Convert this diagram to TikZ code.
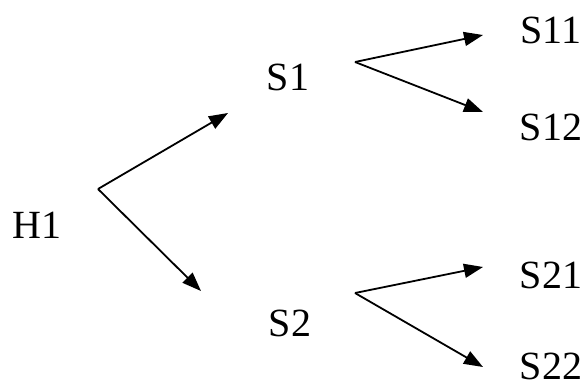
\documentclass[tikz,border=0pt]{standalone}
\usepackage{fontspec}
\setmainfont{Liberation Serif}
\usetikzlibrary{arrows.meta}
\begin{document}
\begin{tikzpicture}[x=1pt,y=-1pt,
  lbl/.style={inner sep=0pt,font=\fontsize{40}{40}\selectfont},
  arr/.style={line width=1.8pt,-{Triangle[length=19pt,width=14pt]}}]
\useasboundingbox (0,0) rectangle (588,389);
\node[lbl] (H1) at (37,225) {H1};
\node[lbl] (S1) at (288,77) {S1};
\node[lbl] (S2) at (290,323) {S2};
\node[lbl] (S11) at (551,30) {S11};
\node[lbl] (S12) at (551,127) {S12};
\node[lbl] (S21) at (551,275) {S21};
\node[lbl] (S22) at (551,366) {S22};
\coordinate (h) at (98,189);
\coordinate (h1) at (228,113);
\coordinate (h2) at (201,291);
\coordinate (a) at (355,62);
\coordinate (a1) at (483,35);
\coordinate (a2) at (483,112);
\coordinate (b) at (355,293);
\coordinate (b1) at (483,267);
\coordinate (b2) at (483,367);
\draw[arr] (h) -- (h1);
\draw[arr] (h) -- (h2);
\draw[arr] (a) -- (a1);
\draw[arr] (a) -- (a2);
\draw[arr] (b) -- (b1);
\draw[arr] (b) -- (b2);
\end{tikzpicture}
\end{document}
